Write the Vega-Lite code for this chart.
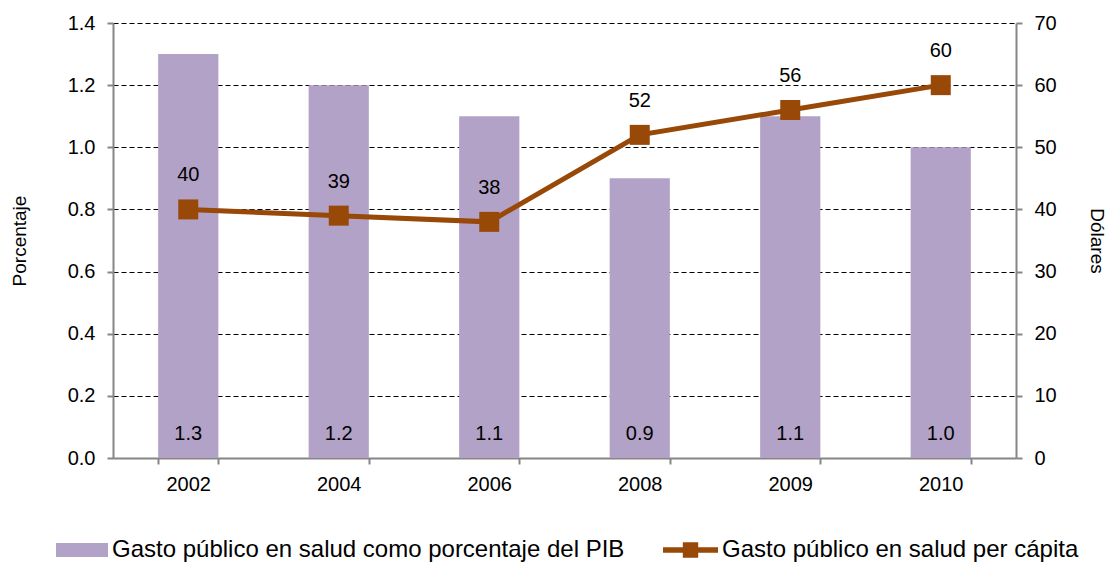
{
  "$schema": "https://vega.github.io/schema/vega-lite/v6.json",
  "width": 903,
  "height": 435,
  "autosize": "none",
  "padding": {"left": 113, "top": 23, "right": 94, "bottom": 106},
  "background": "white",
  "config": {
    "font": "Liberation Sans",
    "view": {"stroke": null},
    "axis": {
      "labelFontSize": 20,
      "labelColor": "black",
      "titleFontSize": 19,
      "titleFontWeight": "normal",
      "titleColor": "black",
      "domainColor": "#868686",
      "domainWidth": 2,
      "tickColor": "#868686",
      "tickWidth": 2,
      "tickSize": 6
    },
    "legend": {
      "labelFontSize": 24,
      "labelColor": "black",
      "labelLimit": 0,
      "labelOffset": 4,
      "padding": 0,
      "title": null
    }
  },
  "data": {
    "values": [
      {"year": "2002", "pct": 1.3, "usd": 40, "s1": "Gasto público en salud como porcentaje del PIB", "s2": "Gasto público en salud per cápita"},
      {"year": "2004", "pct": 1.2, "usd": 39, "s1": "Gasto público en salud como porcentaje del PIB", "s2": "Gasto público en salud per cápita"},
      {"year": "2006", "pct": 1.1, "usd": 38, "s1": "Gasto público en salud como porcentaje del PIB", "s2": "Gasto público en salud per cápita"},
      {"year": "2008", "pct": 0.9, "usd": 52, "s1": "Gasto público en salud como porcentaje del PIB", "s2": "Gasto público en salud per cápita"},
      {"year": "2009", "pct": 1.1, "usd": 56, "s1": "Gasto público en salud como porcentaje del PIB", "s2": "Gasto público en salud per cápita"},
      {"year": "2010", "pct": 1.0, "usd": 60, "s1": "Gasto público en salud como porcentaje del PIB", "s2": "Gasto público en salud per cápita"}
    ]
  },
  "encoding": {
    "x": {
      "field": "year",
      "type": "ordinal",
      "scale": {"paddingInner": 0.6, "paddingOuter": 0.3},
      "axis": {"title": null, "labelAngle": 0, "tickBand": "extent", "labelPadding": 10, "grid": false}
    }
  },
  "layer": [
    {
      "layer": [
        {
          "mark": {"type": "bar"},
          "encoding": {
            "y": {
              "field": "pct",
              "type": "quantitative",
              "scale": {"domain": [0, 1.4], "nice": false},
              "axis": {
                "title": "Porcentaje",
                "values": [0, 0.2, 0.4, 0.6, 0.8, 1.0, 1.2, 1.4],
                "format": ".1f",
                "grid": true,
                "gridColor": "black",
                "gridDash": [5, 3],
                "gridWidth": 1,
                "labelPadding": 12,
                "titlePadding": 38
              }
            },
            "color": {
              "field": "s1",
              "type": "nominal",
              "scale": {"range": ["#B3A2C7"]},
              "legend": {
                "orient": "none",
                "legendX": -57,
                "legendY": 501,
                "symbolType": "M-1,-0.27L1,-0.27L1,0.27L-1,0.27Z",
                "symbolSize": 2704,
                "symbolStrokeWidth": 0
              }
            }
          }
        },
        {
          "mark": {"type": "text", "fontSize": 20, "color": "black", "baseline": "middle", "dy": -24.5},
          "encoding": {
            "y": {"datum": 0, "type": "quantitative"},
            "text": {"field": "pct", "type": "quantitative", "format": ".1f"}
          }
        }
      ]
    },
    {
      "encoding": {
        "y": {
          "field": "usd",
          "type": "quantitative",
          "scale": {"domain": [0, 70], "nice": false},
          "axis": {
            "orient": "right",
            "title": "Dólares",
            "values": [0, 10, 20, 30, 40, 50, 60, 70],
            "grid": false,
            "labelPadding": 12,
            "titlePadding": 30
          }
        }
      },
      "layer": [
        {
          "mark": {"type": "line", "color": "#984807", "strokeWidth": 5}
        },
        {
          "mark": {"type": "point", "shape": "square", "filled": true, "size": 400, "opacity": 1},
          "encoding": {
            "color": {
              "field": "s2",
              "type": "nominal",
              "scale": {"range": ["#984807"]},
              "legend": {
                "orient": "none",
                "legendX": 550,
                "legendY": 499.5,
                "symbolType": "M-1,-0.1L-0.28,-0.1L-0.28,-0.28L0.28,-0.28L0.28,-0.1L1,-0.1L1,0.1L0.28,0.1L0.28,0.28L-0.28,0.28L-0.28,0.1L-1,0.1Z",
                "symbolSize": 3025,
                "symbolStrokeWidth": 0,
                "symbolOpacity": 1
              }
            }
          }
        },
        {
          "mark": {"type": "text", "fontSize": 20, "color": "black", "baseline": "middle", "dy": -34},
          "encoding": {
            "text": {"field": "usd", "type": "quantitative"}
          }
        }
      ]
    }
  ],
  "resolve": {"scale": {"y": "independent", "color": "independent"}}
}
